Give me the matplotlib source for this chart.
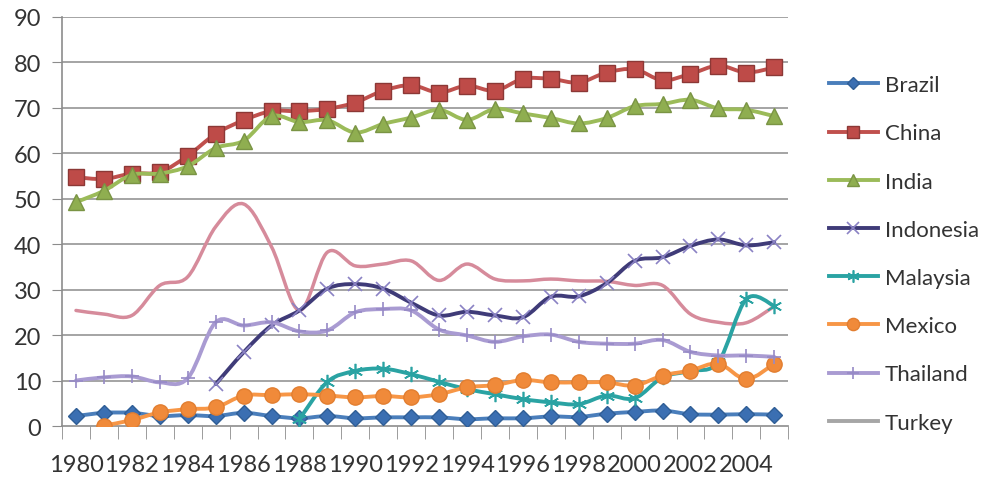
import numpy as np
import matplotlib
matplotlib.use('Agg')
import matplotlib.pyplot as plt
from matplotlib.path import Path
from matplotlib.patches import PathPatch
from matplotlib.lines import Line2D

plt.rcParams['font.family'] = ['Lato', 'DejaVu Sans']

years = list(range(1980, 2006))
nan = np.nan

brazil = [2.3, 3.0, 3.0, 2.3, 2.5, 2.3, 3.0, 2.3, 1.8, 2.3, 1.8, 2.0, 2.0, 2.0, 1.6, 1.8, 1.8, 2.2, 2.1, 2.8,
          3.2, 3.5, 2.7, 2.6, 2.7, 2.6]
china = [54.8, 54.4, 55.6, 55.9, 59.5, 64.3, 67.3, 69.3, 69.3, 69.8, 71.2, 73.8, 75.0, 73.4, 74.9, 73.8, 76.4, 76.4,
         75.6, 77.8, 78.5, 76.1, 77.5, 79.3, 77.8, 78.9]
india = [49.3, 51.8, 55.3, 55.6, 57.2, 61.2, 62.8, 68.2, 66.9, 67.3, 64.6, 66.5, 67.9, 69.6, 67.4, 69.8, 68.8, 67.8,
         66.6, 67.8, 70.4, 70.9, 71.8, 69.9, 69.6, 68.2]
indonesia = [nan, nan, nan, nan, nan, 9.3, 16.3, 22.2, 25.5, 30.3, 31.3, 30.3, 27.2, 24.4, 25.2, 24.4, 24.0, 28.5,
             28.6, 31.5, 36.4, 37.2, 39.7, 41.1, 39.8, 40.5]
malaysia = [nan, nan, nan, nan, nan, nan, nan, nan, 1.6, 9.8, 12.2, 12.7, 11.5, 9.8, 8.2, 7.1, 6.0, 5.3,
            4.9, 6.8, 6.2, 10.8, 12.2, 14.2, 28.0, 26.5]
mexico = [nan, 0.2, 1.4, 3.1, 3.8, 4.2, 6.8, 6.9, 7.1, 6.8, 6.4, 6.7, 6.4, 7.1, 8.6, 9.1, 10.2, 9.7, 9.7, 9.7,
          9.0, 11.2, 12.3, 13.8, 10.4, 13.8]
thailand = [10.1, 10.8, 11.0, 9.7, 10.6, 22.9, 22.2, 22.9, 20.9, 21.1, 25.1, 25.8, 25.5, 21.3, 20.0, 18.6, 19.8,
            20.2, 18.6, 18.2, 18.2, 19.0, 16.4, 15.6, 15.6, 15.3]
turkey = [nan] * 26
other = [25.5, 24.7, 24.4, 31.0, 32.9, 43.9, 48.9, 39.5, 25.5, 38.3, 35.3, 35.7, 36.4, 32.1, 35.7, 32.4, 32.0,
         32.4, 32.0, 31.9, 31.0, 31.0, 24.7, 22.9, 22.8, 26.4]

names = ['Brazil', 'China', 'India', 'Indonesia', 'Malaysia', 'Mexico', 'Thailand', 'Turkey']


def smooth_path(xs, ys):
    # excel style smoothed line: cubic bezier through the points
    pts = np.column_stack([xs, ys])
    verts = [pts[0]]
    codes = [Path.MOVETO]
    n = len(pts)
    for i in range(n - 1):
        p0 = pts[max(i - 1, 0)]
        p1 = pts[i]
        p2 = pts[i + 1]
        p3 = pts[min(i + 2, n - 1)]
        c1 = p1 + (p2 - p0) / 6.0
        c2 = p2 - (p3 - p1) / 6.0
        verts += [c1, c2, p2]
        codes += [Path.CURVE4] * 3
    return Path(verts, codes)


def draw_series(ax, vals, color, lw, marker=None, ms=0, mfc=None, mec=None, mew=1.0, z=2):
    x = np.arange(len(vals))
    y = np.array(vals, dtype=float)
    ok = ~np.isnan(y)
    # split on gaps
    idx = np.where(ok)[0]
    segs = np.split(idx, np.where(np.diff(idx) > 1)[0] + 1)
    for s in segs:
        if len(s) > 1:
            ax.add_patch(PathPatch(smooth_path(x[s], y[s]), fill=False, edgecolor=color, lw=lw,
                                   capstyle='round', joinstyle='round', zorder=z))
    if marker is not None:
        ax.plot(x[ok], y[ok], ls='none', marker=marker, ms=ms, mfc=mfc, mec=mec, mew=mew, zorder=z + 0.5)


fig = plt.figure(figsize=(9.94, 4.85), dpi=100)
ax = fig.add_axes([0.0624, 0.1186, 0.7306, 0.8443])

grid_c = '#8c8c8c'
for v in range(10, 100, 10):
    ax.axhline(v, color=grid_c, lw=1.1, zorder=1)

styles = [
    # color, marker, ms, mfc, mec, mew
    ('#4A7EBB', 'D', 8, '#3B6FB2', '#2F5E96', 1.0),
    ('#C0504D', 's', 11.5, '#BE4B48', '#8C3836', 1.0),
    ('#9BBB59', '^', 11, '#8FAE50', '#7A9444', 1.0),
    ('#3F3B78', 'x', 10, 'none', '#8A82C4', 1.2),
    ('#2AA3A3', (6, 2, 0), 11, 'none', '#2AA3A3', 1.2),
    ('#F79646', 'o', 11, '#F08A3A', '#E27E30', 1.0),
    ('#A99BD2', '+', 10, 'none', '#968AC6', 1.2),
    ('#A6A6A6', None, 0, None, None, 1.0),
]
series = [brazil, china, india, indonesia, malaysia, mexico, thailand, turkey]

# unlabelled pink series drawn underneath
draw_series(ax, other, '#D68B9B', 2.5, z=2)

handles = []
for k, (vals, st) in enumerate(zip(series, styles)):
    col, mk, ms, mfc, mec, mew = st
    draw_series(ax, vals, col, 2.8, mk, ms, mfc, mec, mew, z=3 + k)
    handles.append(Line2D([], [], color=col, lw=2.8, marker=mk, ms=ms * 0.8 if mk else 0,
                          mfc=mfc, mec=mec, mew=mew))

ax.set_xlim(-0.5, len(years) - 0.5)
ax.set_ylim(0, 90)

ax.set_yticks(range(0, 100, 10))
ax.tick_params(axis='y', length=7, color=grid_c, labelsize=17, pad=8, labelcolor='#333333')

ax.set_xticks(range(0, len(years), 2))
ax.set_xticklabels([str(y) for y in years[::2]])
ax.set_xticks(np.arange(-0.5, len(years), 1), minor=True)
ax.tick_params(axis='x', which='major', length=0, labelsize=17, pad=20, labelcolor='#333333')
ax.tick_params(axis='x', which='minor', length=9, color=grid_c, direction='out')

for s in ['top', 'right']:
    ax.spines[s].set_visible(False)
ax.spines['left'].set_color(grid_c)
ax.spines['bottom'].set_color(grid_c)
ax.spines['left'].set_linewidth(1.2)
ax.spines['bottom'].set_linewidth(1.2)

fig.legend(handles, names, loc='upper left', bbox_to_anchor=(0.834, 0.843), frameon=False,
           fontsize=16, handlelength=2.2, handletextpad=0.3, labelspacing=1.27,
           borderpad=0, borderaxespad=0, labelcolor='#333333')

fig.savefig('out.png', dpi=100, facecolor='white')
